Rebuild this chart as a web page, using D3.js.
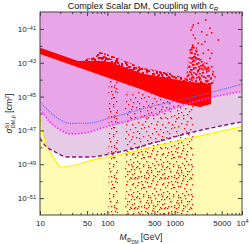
<!DOCTYPE html>
<html>
<head>
<meta charset="utf-8">
<script src="https://cdn.jsdelivr.net/npm/d3@7"></script>
<style>
  body { margin: 0; background: #fff; }
  svg { display: block; font-family: "Liberation Sans", Arial, sans-serif; }
</style>
</head>
<body>
<div id="chart"></div>
<script>
// limit curves: dark matter mass (GeV) and SI cross section (cm^2)
const blueMass = [10, 14, 20, 28, 55, 110, 200, 430, 1900, 10000];
const blueSig  = [4.8e-46, 1.23e-46, 4.2e-47, 2.6e-47, 2.75e-47, 5.5e-47, 1.07e-46, 2.45e-46, 9.5e-46, 5.5e-45];

const magentaMass = [10, 14, 20, 28, 47, 92, 200, 430, 3700, 10000];
const magentaSig  = [1.85e-46, 3.2e-47, 1.07e-47, 6.2e-48, 7.1e-48, 1.6e-47, 3.6e-47, 7.6e-47, 9.5e-46, 2.0e-45];

const purpleMass = [10, 11.1, 16.7, 26, 55, 110, 200, 430, 1900, 10000];
const purpleSig  = [3.5e-48, 1.8e-48, 5.4e-49, 2.7e-49, 2.7e-49, 4.1e-49, 6.9e-49, 1.6e-48, 8.1e-48, 3.2e-47];

const yellowMass = [10, 10.7, 11.9, 14, 16.7, 20, 78, 200, 430, 10000];
const yellowSig  = [6e-47, 1.07e-47, 2.1e-48, 5.4e-49, 1.8e-49, 6.9e-50, 2.2e-49, 4.7e-49, 9.8e-49, 1.7e-47];

// dense scan region (outline of the solid red band)
const bandMass = [10, 36.7, 72.7, 109.6, 339, 1690, 2822, 3465, 3465, 2380, 1200, 606, 339, 10];
const bandSig  = [7.8e-43, 1.27e-43, 1.3e-43, 1.1e-43, 2.2e-44, 7.3e-45, 6.4e-45, 4.5e-45,
                  3.65e-46, 2.42e-46, 4.2e-46, 9.4e-46, 2.45e-45, 3.3e-43];

// speckled upper part of the band
const bumpMass = [36.7, 55.3, 67.9, 72.7, 109.6, 339, 853, 1690, 2822, 3465, 3465, 339, 77.8, 36.7];
const bumpSig  = [1.27e-43, 1.91e-43, 2.19e-43, 4.6e-43, 2.87e-43, 4.9e-44, 2.48e-44, 9.5e-45,
                  7.3e-45, 5.5e-45, 2.0e-45, 4.0e-45, 4.9e-44, 9.7e-44];

// plume of points near 2-4 TeV
const plumeMass = [1474, 1525, 1633, 1809, 2075, 2298, 2728, 3348, 3840, 3711, 2822];
const plumeSig  = [5.5e-45, 3.73e-44, 2.87e-43, 1.12e-42, 1.12e-42, 2.87e-43, 1.11e-43, 4.9e-44,
                   1.89e-44, 4.2e-45, 3.2e-45];

// vertical scattered strips (mass range, sigma range)
const strip1Mass = [104, 144];
const strip1Sig  = [1e-52, 9.5e-45];
const strip2Mass = [183, 1873];
const strip2UpperSig = [7e-49, 1.9e-45];
const strip2LowerSig = [1e-52, 7e-49];

// individual points above the plume
const outMass = [1892, 1829, 2244, 2891, 3350, 2524, 3548, 2992, 1750, 1892, 2005, 2244, 2524, 2822,
                 3162, 3548, 3350, 4446, 1854, 1690, 2123, 2661, 2992, 3548, 3162, 2380, 2005, 1790,
                 1892, 2168, 3970, 3750, 2661];
const outSig  = [1.71e-41, 1.25e-41, 2.15e-41, 3.37e-41, 1.09e-41, 6.8e-42, 5.97e-42, 4.37e-42, 8.6e-42,
                 4.37e-42, 2.79e-42, 1.41e-42, 1.23e-42, 1.75e-42, 5.7e-43, 3.62e-43, 1.83e-43, 2.21e-42,
                 1.12e-42, 5.7e-43, 4.5e-43, 3.62e-43, 9.3e-44, 5.85e-44, 4.7e-44, 1.46e-43, 2.28e-43,
                 3.62e-43, 1.46e-43, 8.4e-44, 1.5e-44, 2.96e-44, 3.73e-44];

const xMajor = [10, 50, 100, 500, 1000, 5000, 10000];
const xMinor = [20, 30, 40, 60, 70, 80, 90, 200, 300, 400, 600, 700, 800, 900,
                2000, 3000, 4000, 6000, 7000, 8000, 9000];
const yMajor = [1e-41, 1e-43, 1e-45, 1e-47, 1e-49, 1e-51];
const yMinor = [1e-42, 1e-44, 1e-46, 1e-48, 1e-50];

const W = 249, H = 244;
const pL = 40, pR = 242, pT = 12, pB = 215;

const svg = d3.select("#chart").append("svg")
    .attr("width", W)
    .attr("height", H);

const x = d3.scaleLog().domain([10, 1e4]).range([pL, pR]);
const y = d3.scaleLog().domain([1e-52, 1e-40]).range([pB, pT]);

// texture tile for the scattered scan points (30x30, hand placed)
const defs = svg.append("defs");
const tileDots = [[1,3],[7,1],[12,4],[18,2],[25,1],[28,6],[4,8],[10,9],[15,7],[21,8],[26,11],[2,13],
    [8,14],[13,12],[19,13],[23,16],[28,15],[5,18],[11,19],[16,17],[20,21],[27,20],[1,22],[7,24],
    [14,23],[24,25],[28,27],[3,28],[10,27],[17,28],[21,26],[6,4],[22,4],[17,11],[12,16],[3,25],
    [26,28],[9,21],[15,27],[28,23],[0,17],[24,7],[11,28],[19,18],[6,11]];
const shift = (dots, dx, dy) => dots.map(d => [(d[0] + dx) % 30, (d[1] + dy) % 30]);
function makePattern(id, dots, s) {
    const p = defs.append("pattern")
        .attr("id", id)
        .attr("patternUnits", "userSpaceOnUse")
        .attr("width", 30).attr("height", 30);
    p.selectAll("rect").data(dots).enter().append("rect")
        .attr("x", d => d[0]).attr("y", d => d[1])
        .attr("width", s).attr("height", s)
        .attr("fill", "#ff0000");
}
const tile70 = tileDots.concat(shift(tileDots.slice(0, 25), 16, 13));
const tile90 = tileDots.concat(shift(tileDots, 15, 11));
const tile135 = tile90.concat(shift(tileDots, 8, 19));
makePattern("ptMid", tileDots, 1.3);
makePattern("ptDense", tile70, 1.3);
makePattern("ptPlume", tile135, 1.7);
makePattern("ptHeavy", tile135, 2);

defs.append("clipPath").attr("id", "plotClip")
    .append("rect")
    .attr("x", pL).attr("y", pT)
    .attr("width", pR - pL).attr("height", pB - pT);

const plot = svg.append("g").attr("clip-path", "url(#plotClip)");

// excluded regions
plot.append("rect")
    .attr("x", pL).attr("y", pT)
    .attr("width", pR - pL).attr("height", pB - pT)
    .attr("fill", "#e8a6e8");

const area = d3.area()
    .x(d => x(d[0]))
    .y0(pB)
    .y1(d => y(d[1]))
    .curve(d3.curveMonotoneX);

plot.append("path").attr("d", area(d3.zip(magentaMass, magentaSig))).attr("fill", "#e6cae6");
plot.append("path").attr("d", area(d3.zip(purpleMass, purpleSig))).attr("fill", "#ffffff");
plot.append("path").attr("d", area(d3.zip(yellowMass, yellowSig))).attr("fill", "#fffbb4");

// scan points
function box(m, s) {
    return [[m[0], s[0]], [m[1], s[0]], [m[1], s[1]], [m[0], s[1]]];
}
const poly = d3.line()
    .x(d => x(d[0]))
    .y(d => y(d[1]))
    .curve(d3.curveLinearClosed);

plot.append("path").attr("d", poly(box(strip1Mass, strip1Sig))).attr("fill", "url(#ptDense)");
plot.append("path").attr("d", poly(box(strip2Mass, strip2UpperSig))).attr("fill", "url(#ptMid)");
plot.append("path").attr("d", poly(box(strip2Mass, strip2LowerSig))).attr("fill", "url(#ptDense)");
plot.append("path").attr("d", poly(d3.zip(plumeMass, plumeSig))).attr("fill", "url(#ptPlume)");
plot.append("path").attr("d", poly(d3.zip(bumpMass, bumpSig))).attr("fill", "url(#ptHeavy)");
plot.append("path").attr("d", poly(d3.zip(bandMass, bandSig))).attr("fill", "#ff0000");

plot.selectAll(".pt")
    .data(d3.zip(outMass, outSig))
    .enter()
    .append("rect")
    .attr("class", "pt")
    .attr("x", d => x(d[0]) - 0.8)
    .attr("y", d => y(d[1]) - 0.8)
    .attr("width", 1.6).attr("height", 1.6)
    .attr("fill", "#ff0000");

// limit lines
const line = d3.line()
    .x(d => x(d[0]))
    .y(d => y(d[1]))
    .curve(d3.curveMonotoneX);

plot.append("path").attr("d", line(d3.zip(yellowMass, yellowSig)))
    .attr("fill", "none").attr("stroke", "#fff000").attr("stroke-width", 1.2);
plot.append("path").attr("d", line(d3.zip(purpleMass, purpleSig)))
    .attr("fill", "none").attr("stroke", "#7a1a7a").attr("stroke-width", 1.4)
    .attr("stroke-dasharray", "4,2.5");
plot.append("path").attr("d", line(d3.zip(magentaMass, magentaSig)))
    .attr("fill", "none").attr("stroke", "#ff30ff").attr("stroke-width", 1.6)
    .attr("stroke-dasharray", "1.6,1.6");
plot.append("path").attr("d", line(d3.zip(blueMass, blueSig)))
    .attr("fill", "none").attr("stroke", "#6060f0").attr("stroke-width", 1.1)
    .attr("stroke-dasharray", "1.1,1.1");

// frame
svg.append("rect")
    .attr("x", pL).attr("y", pT)
    .attr("width", pR - pL).attr("height", pB - pT)
    .attr("fill", "none").attr("stroke", "#444").attr("stroke-width", 1);

// ticks
function styleAxis(g) {
    g.select(".domain").remove();
    g.selectAll("line").attr("stroke", "#444");
    g.selectAll("text").attr("fill", "#222").attr("font-size", "8px")
        .attr("font-family", "'Liberation Sans', Arial, sans-serif");
}

svg.append("g").attr("transform", `translate(0,${pB})`)
    .call(d3.axisBottom(x).tickValues(xMinor).tickSize(-2).tickFormat(""))
    .call(styleAxis);
const xAx = svg.append("g").attr("transform", `translate(0,${pB})`)
    .call(d3.axisBottom(x).tickValues(xMajor).tickSize(-4).tickPadding(5)
        .tickFormat(d => d === 10000 ? "" : String(d)))
    .call(styleAxis);
xAx.selectAll("text").filter(d => d === 10000).each(function() {
    const t = d3.select(this);
    t.append("tspan").text("10");
    t.append("tspan").attr("font-size", "5.5px").attr("dy", "-0.45em").text("4");
});
svg.append("g").attr("transform", `translate(0,${pT})`)
    .call(d3.axisTop(x).tickValues(xMinor).tickSize(-2).tickFormat(""))
    .call(styleAxis);
svg.append("g").attr("transform", `translate(0,${pT})`)
    .call(d3.axisTop(x).tickValues(xMajor).tickSize(-4).tickFormat(""))
    .call(styleAxis);

svg.append("g").attr("transform", `translate(${pL},0)`)
    .call(d3.axisLeft(y).tickValues(yMinor).tickSize(-2.5).tickFormat(""))
    .call(styleAxis);
const yAx = svg.append("g").attr("transform", `translate(${pL},0)`)
    .call(d3.axisLeft(y).tickValues(yMajor).tickSize(-4).tickPadding(4).tickFormat(""))
    .call(styleAxis);
yAx.selectAll("text").each(function(d) {
    const t = d3.select(this);
    t.append("tspan").text("10");
    t.append("tspan").attr("font-size", "5.5px").attr("dy", "-0.45em")
        .text("\u2212" + Math.abs(Math.round(Math.log10(d))));
});
svg.append("g").attr("transform", `translate(${pR},0)`)
    .call(d3.axisRight(y).tickValues(yMinor).tickSize(-2.5).tickFormat(""))
    .call(styleAxis);
svg.append("g").attr("transform", `translate(${pR},0)`)
    .call(d3.axisRight(y).tickValues(yMajor).tickSize(-4).tickFormat(""))
    .call(styleAxis);

// title
const title = svg.append("text")
    .attr("x", (pL + pR) / 2 + 2)
    .attr("y", 9)
    .attr("text-anchor", "middle")
    .attr("font-size", "9px")
    .attr("fill", "#111")
    .text("Complex Scalar DM, Coupling with ");
title.append("tspan").attr("font-style", "italic").text("c");
title.append("tspan").attr("font-style", "italic").attr("font-size", "6px").attr("dy", "2").text("R");

// x axis label
const xl = svg.append("text")
    .attr("x", (pL + pR) / 2)
    .attr("y", 240)
    .attr("text-anchor", "middle")
    .attr("font-size", "8.5px")
    .attr("fill", "#222");
xl.append("tspan").attr("font-style", "italic").text("M");
xl.append("tspan").attr("font-size", "6px").attr("dy", "2").text("\u03a6");
xl.append("tspan").attr("font-size", "4.5px").attr("dy", "1.5").text("DM");
xl.append("tspan").attr("dy", "-3.5").text(" [GeV]");

// y axis label
const yl = svg.append("text")
    .attr("transform", `translate(12,${(pT + pB) / 2}) rotate(-90)`)
    .attr("text-anchor", "middle")
    .attr("font-size", "8.5px")
    .attr("fill", "#222");
yl.append("tspan").attr("font-style", "italic").text("\u03c3");
yl.append("tspan").attr("font-size", "5.5px").attr("dy", "-3.5").text("SI");
yl.append("tspan").attr("font-size", "5.5px").attr("dx", "-5.2").attr("dy", "6.5").text("DM,p");
yl.append("tspan").attr("dy", "-3").text(" [cm");
yl.append("tspan").attr("font-size", "5.5px").attr("dy", "-3").text("2");
yl.append("tspan").attr("dy", "3").text("]");
</script>
</body>
</html>
